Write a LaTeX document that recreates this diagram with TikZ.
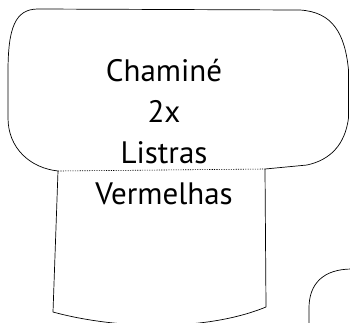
\documentclass[tikz,border=0pt]{standalone}
\usepackage{fontspec}
\setmainfont{PT Sans}
\tikzset{
    outline/.style={draw=black, line width=0.7pt, line join=round},
    seam/.style={draw=black, line width=0.6pt, dash pattern=on 1.2pt off 1.2pt},
    caption/.style={align=center, font=\fontsize{31}{41}\selectfont},
}

\begin{document}
\begin{tikzpicture}[x=1pt, y=-1pt]
    \useasboundingbox (0,0) rectangle (350,322);
    \clip (0,0) rectangle (350,322);
    % top cap of the chimney
    \coordinate (capl) at (58,171);
    \coordinate (capr) at (265,169);
    \draw[outline] (capl) .. controls (30,168) and (8,148) .. (8,118)
        -- (8,72) .. controls (8,28) and (15,9) .. (38,9)
        -- (300,10) .. controls (333,12) and (345,34) .. (348.5,70)
        -- (348.5,118) .. controls (345,145) and (330,160) .. (307,165)
        -- (capr);
    \draw[seam] (capl) -- (capr);
    % body of the chimney
    \draw[outline] (capl) -- (53,312) .. controls (115,329) and (205,332) .. (266,307) -- (capr);
    % corner of the next piece
    \draw[outline] (309,330) -- (309,308) .. controls (309,284) and (323,269) .. (352,269);
    \node[caption] (txt) at (164,132) {Chaminé\\2x\\Listras\\Vermelhas};
\end{tikzpicture}
\end{document}
